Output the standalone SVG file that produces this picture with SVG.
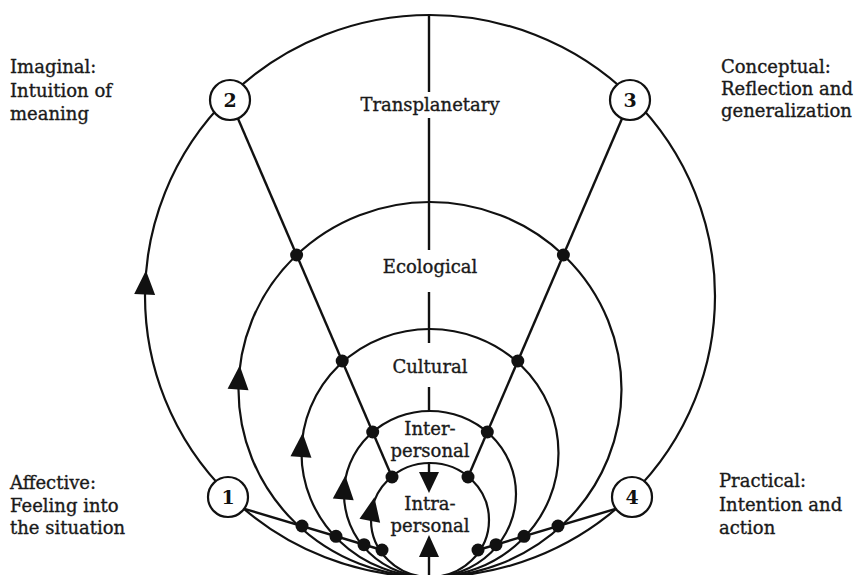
<svg xmlns="http://www.w3.org/2000/svg" xmlns:xlink="http://www.w3.org/1999/xlink" width="864" height="575" viewBox="0 0 864 575">
<style>
.ring{fill:none;stroke:#111;stroke-width:2.2}
.ln{stroke:#111;stroke-width:2.4;fill:none}
.dot{fill:#111}
.num{fill:#fff;stroke:#111;stroke-width:2.2}
.nt{font-family:"DejaVu Serif","Liberation Serif",serif;font-size:19px;font-weight:bold;fill:#111;text-anchor:middle}
.lbl{font-family:"DejaVu Serif","Liberation Serif",serif;font-size:18px;fill:#1a1a1a;stroke:#1a1a1a;stroke-width:0.35}
.ctr{text-anchor:middle}
.arr{fill:#111}
</style>
<defs>
<path id="arr" d="M0,-12 L10.5,12 L-10.5,12 Z"/>
</defs>
<rect width="864" height="575" fill="#fff"/>
<g id="rings">
<ellipse id="transplanetary" class="ring" cx="430" cy="296" rx="285" ry="281"/>
<ellipse id="ecological" class="ring" cx="430" cy="389.5" rx="191.5" ry="187.5"/>
<ellipse id="cultural" class="ring" cx="430" cy="453" rx="128.5" ry="124"/>
<ellipse id="interpersonal" class="ring" cx="430" cy="494" rx="86" ry="83"/>
<ellipse id="intrapersonal" class="ring" cx="430" cy="520" rx="59" ry="57"/>
</g>
<g id="connectors">
<line class="ln" x1="230" y1="100" x2="392" y2="477"/>
<line class="ln" x1="630" y1="100" x2="468" y2="477"/>
<line class="ln" x1="228" y1="504" x2="382" y2="550"/>
<line class="ln" x1="632" y1="504" x2="478" y2="550"/>
<line class="ln" x1="429" y1="15" x2="429" y2="92"/>
<line class="ln" x1="429" y1="118" x2="429" y2="250"/>
<line class="ln" x1="429" y1="292" x2="429" y2="343"/>
<line class="ln" x1="429" y1="387" x2="429" y2="411"/>
<line class="ln" x1="429" y1="462" x2="429" y2="473"/>
<line class="ln" x1="429" y1="556" x2="429" y2="577"/>
<path class="arr" d="M419,472 L439,472 L429,493 Z"/>
<path class="arr" d="M429,535 L439,557 L419,557 Z"/>
<use href="#arr" class="arr" transform="translate(145.3,282.5) rotate(3)"/>
<use href="#arr" class="arr" transform="translate(238.9,377.5) rotate(4)"/>
<use href="#arr" class="arr" transform="translate(301.8,445) rotate(4)"/>
<use href="#arr" class="arr" transform="translate(344.3,487.5) rotate(5)"/>
<use href="#arr" class="arr" transform="translate(372.1,509) rotate(11)"/>
</g>
<g id="junctions">
<circle class="dot" cx="296.6" cy="255" r="6.5"/>
<circle class="dot" cx="342.2" cy="361" r="6.5"/>
<circle class="dot" cx="372.7" cy="432" r="6.5"/>
<circle class="dot" cx="392" cy="477" r="6.5"/>
<circle class="dot" cx="563.4" cy="255" r="6.5"/>
<circle class="dot" cx="517.8" cy="361" r="6.5"/>
<circle class="dot" cx="487.3" cy="432" r="6.5"/>
<circle class="dot" cx="468" cy="477" r="6.5"/>
<circle class="dot" cx="302" cy="526" r="6.5"/>
<circle class="dot" cx="336" cy="536.3" r="6.5"/>
<circle class="dot" cx="364" cy="544.7" r="6.5"/>
<circle class="dot" cx="382" cy="550" r="6.5"/>
<circle class="dot" cx="558" cy="526" r="6.5"/>
<circle class="dot" cx="524" cy="536.3" r="6.5"/>
<circle class="dot" cx="496" cy="544.7" r="6.5"/>
<circle class="dot" cx="478" cy="550" r="6.5"/>
</g>
<g id="node1"><circle class="num" cx="228" cy="497" r="20"/><text class="nt" x="228" y="504">1</text></g>
<g id="node2"><circle class="num" cx="230" cy="100" r="20"/><text class="nt" x="230" y="107">2</text></g>
<g id="node3"><circle class="num" cx="630" cy="100" r="20"/><text class="nt" x="630" y="107">3</text></g>
<g id="node4"><circle class="num" cx="632" cy="497" r="20"/><text class="nt" x="632" y="504">4</text></g>
<g id="ring-labels">
<text class="lbl ctr" x="430" y="111">Transplanetary</text>
<text class="lbl ctr" x="430" y="273">Ecological</text>
<text class="lbl ctr" x="430" y="373">Cultural</text>
<text class="lbl ctr" x="430" y="435">Inter-</text>
<text class="lbl ctr" x="430" y="457">personal</text>
<text class="lbl ctr" x="430" y="510">Intra-</text>
<text class="lbl ctr" x="430" y="532">personal</text>
</g>
<g id="label-imaginal">
<text class="lbl" x="10" y="73">Imaginal:</text>
<text class="lbl" x="10" y="97">Intuition of</text>
<text class="lbl" x="10" y="120">meaning</text>
</g>
<g id="label-conceptual">
<text class="lbl" x="721" y="73">Conceptual:</text>
<text class="lbl" x="721" y="95">Reflection and</text>
<text class="lbl" x="721" y="117">generalization</text>
</g>
<g id="label-affective">
<text class="lbl" x="10" y="489">Affective:</text>
<text class="lbl" x="10" y="512">Feeling into</text>
<text class="lbl" x="10" y="534">the situation</text>
</g>
<g id="label-practical">
<text class="lbl" x="719" y="487">Practical:</text>
<text class="lbl" x="719" y="511">Intention and</text>
<text class="lbl" x="719" y="534">action</text>
</g>
</svg>
